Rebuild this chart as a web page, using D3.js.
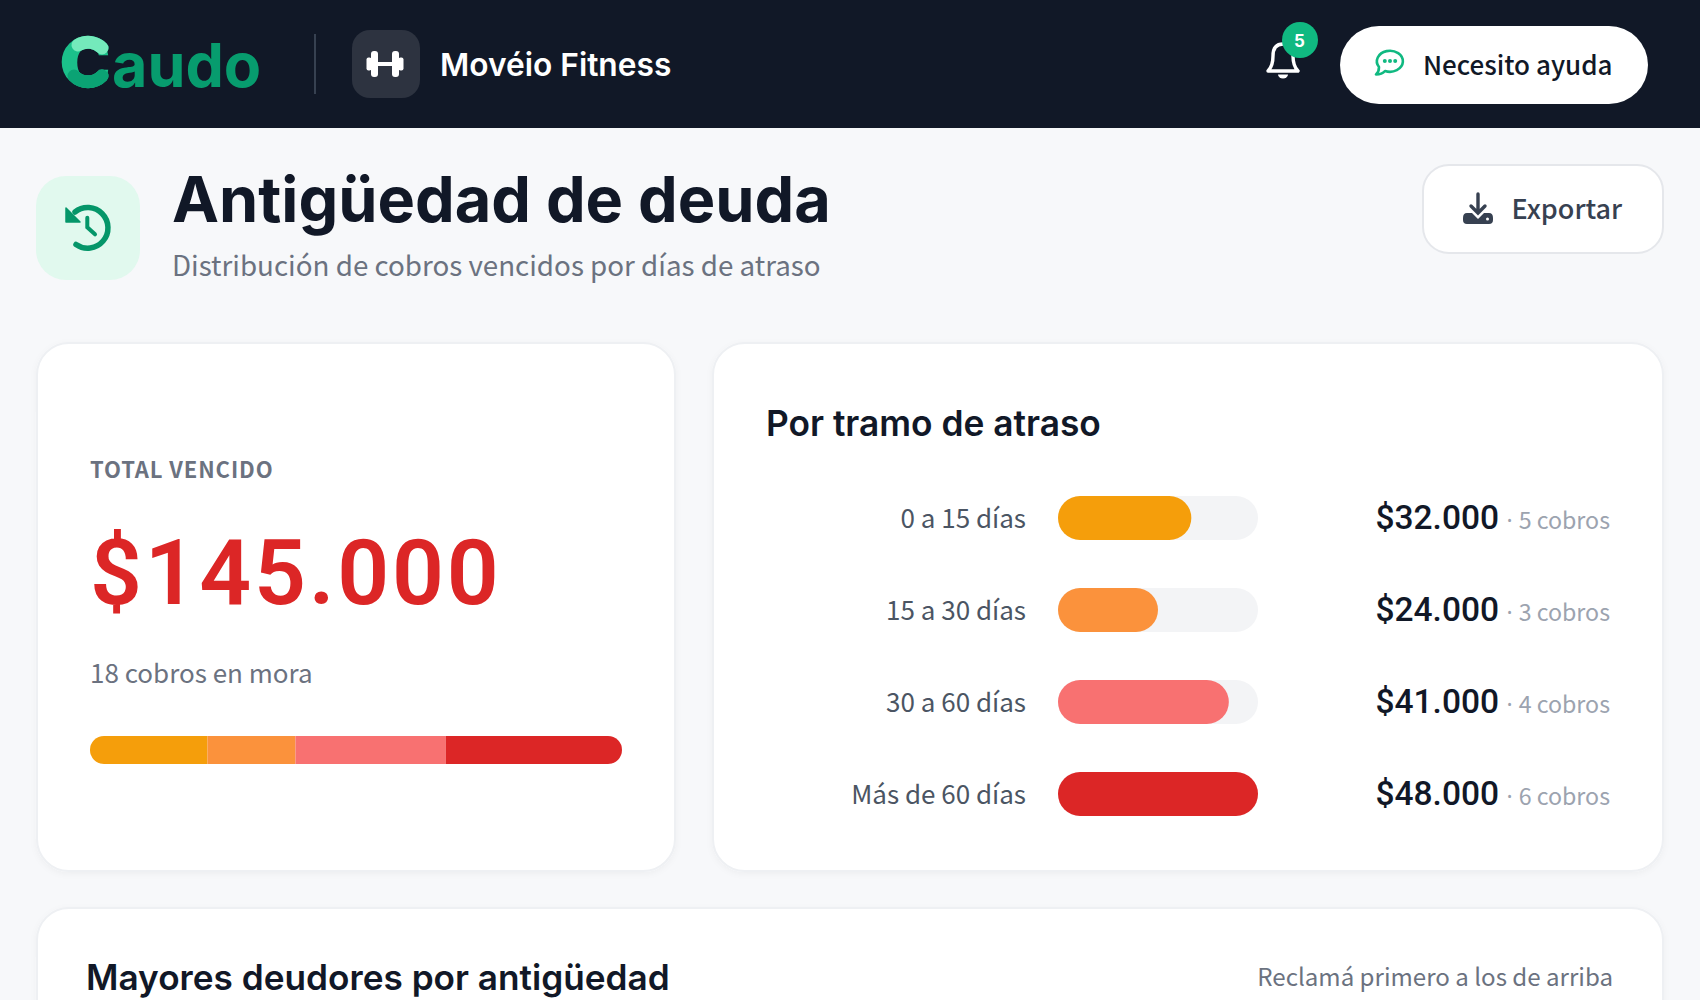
<!DOCTYPE html>
<html lang="es">
<head>
<meta charset="utf-8">
<title>Antigüedad de deuda</title>
<script src="https://cdn.jsdelivr.net/npm/d3@7.9.0/dist/d3.min.js"></script>
<style>
  html, body { margin: 0; padding: 0; background: #f7f8fa; overflow: hidden; }
  svg { display: block; }
  .body { font-family: "Noto Sans CJK SC", "Noto Sans", sans-serif; }
  .head { font-family: Inter, "Open Sans", sans-serif; }
  .nums { font-family: Roboto, sans-serif; }
</style>
</head>
<body>
<div id="chart"></div>
<script>
// datos
const tramos = ["0 a 15 días", "15 a 30 días", "30 a 60 días", "Más de 60 días"];
const montos = [32000, 24000, 41000, 48000];
const cobros = [5, 3, 4, 6];
const colores = ["#f59e0b", "#fb923c", "#f87171", "#dc2626"];
const totalVencido = 145000;
const totalCobros = 18;

const fmt = v => "$" + d3.format(",")(v).replace(/,/g, ".");

const svg = d3.select("#chart").append("svg")
  .attr("width", 1700).attr("height", 1000).attr("viewBox", "0 0 1700 1000");

const defs = svg.append("defs");
const shadow = defs.append("filter").attr("id", "sombra")
  .attr("x", "-5%").attr("y", "-5%").attr("width", "110%").attr("height", "110%");
shadow.append("feDropShadow").attr("dx", 0).attr("dy", 2).attr("stdDeviation", 3)
  .attr("flood-color", "#111827").attr("flood-opacity", 0.04);

function label(x, y, str, cls, size, weight, fill, anchor, spacing) {
  return svg.append("text").attr("class", cls)
    .attr("x", x).attr("y", y)
    .attr("font-size", size).attr("font-weight", weight).attr("fill", fill)
    .attr("text-anchor", anchor || "start")
    .attr("letter-spacing", spacing || 0)
    .text(str);
}

function card(x, y, w, h) {
  svg.append("rect").attr("x", x).attr("y", y).attr("width", w).attr("height", h)
    .attr("rx", 32).attr("fill", "#fff").attr("stroke", "#eef0f3").attr("stroke-width", 2)
    .attr("filter", "url(#sombra)");
}

// header
svg.append("rect").attr("width", 1700).attr("height", 128).attr("fill", "#111827");

const logo = svg.append("text").attr("class", "head").attr("y", 87)
  .attr("font-weight", 700).attr("fill", "#079c6e");
logo.append("tspan").attr("x", 65).attr("dy", -2).attr("font-size", 62).attr("fill", "#1bc08a").text("C");
logo.append("tspan").attr("x", 112).attr("dy", 2).attr("font-size", 61).text("audo");
// la C del logo va en tres tonos
const arcoC = svg.append("g").attr("fill", "none").attr("stroke-width", 13).attr("stroke-linecap", "round");
arcoC.append("path").attr("d", "M102 48 A19.8 19.8 0 1 0 102 76").attr("stroke", "#1bc08a");
arcoC.append("path").attr("d", "M74 76 A19.8 19.8 0 0 0 102 76").attr("stroke", "#0ba374");
arcoC.append("path").attr("d", "M102 48 A19.8 19.8 0 0 0 78 45").attr("stroke", "#74eabb");

svg.append("line").attr("x1", 315).attr("x2", 315).attr("y1", 34).attr("y2", 94)
  .attr("stroke", "#374151").attr("stroke-width", 2);
svg.append("rect").attr("x", 352).attr("y", 30).attr("width", 68).attr("height", 68).attr("rx", 18)
  .attr("fill", "#2d3340");
// mancuerna
const pesa = svg.append("g").attr("transform", "translate(385,64)").attr("fill", "#fff");
pesa.append("rect").attr("x", -14).attr("y", -13).attr("width", 7).attr("height", 26).attr("rx", 3);
pesa.append("rect").attr("x", 7).attr("y", -13).attr("width", 7).attr("height", 26).attr("rx", 3);
pesa.append("rect").attr("x", -18.5).attr("y", -6.5).attr("width", 5).attr("height", 13).attr("rx", 2);
pesa.append("rect").attr("x", 13.5).attr("y", -6.5).attr("width", 5).attr("height", 13).attr("rx", 2);
pesa.append("rect").attr("x", -7).attr("y", -2).attr("width", 14).attr("height", 4);

label(440, 76, "Movéio Fitness", "head", 31.7, 600, "#fff");

// campana
const bell = svg.append("g").attr("fill", "none").attr("stroke", "#fff").attr("stroke-width", 3.4)
  .attr("stroke-linejoin", "round");
bell.append("path").attr("d", "M1268 71 Q1273 66 1273 56 Q1273 44 1283 44 Q1293 44 1293 56 Q1293 66 1298 71 Z");
svg.append("path").attr("d", "M1278 74.5 A5 4 0 0 0 1288 74.5 Z").attr("fill", "#fff");
svg.append("circle").attr("cx", 1300).attr("cy", 40).attr("r", 18).attr("fill", "#10b981");
label(1299.5, 46.5, "5", "head", 17, 700, "#fff", "middle");

// boton ayuda
svg.append("rect").attr("x", 1340).attr("y", 26).attr("width", 308).attr("height", 78).attr("rx", 39)
  .attr("fill", "#fff");
const chat = svg.append("g").attr("transform", "translate(1390,62)");
chat.append("path").attr("d", "M-5 9 A13 10.5 0 1 0 -11 5 Q-11 10 -14 12.5 Q-8 12.5 -5 9 Z")
  .attr("fill", "none").attr("stroke", "#10b981").attr("stroke-width", 2.6).attr("stroke-linejoin", "round");
chat.selectAll("circle").data([-5.2, 0, 5.2]).enter().append("circle")
  .attr("cx", d => d).attr("cy", -1).attr("r", 2).attr("fill", "#10b981");
label(1423, 74.5, "Necesito ayuda", "body", 26, 500, "#111827");

// titulo
svg.append("rect").attr("x", 36).attr("y", 176).attr("width", 104).attr("height", 104).attr("rx", 30)
  .attr("fill", "#e1f9ee");
const hist = svg.append("g").attr("fill", "none").attr("stroke", "#059669").attr("stroke-width", 5.5)
  .attr("stroke-linecap", "round");
hist.append("path").attr("d", "M75 212 A20.3 20.3 0 1 1 76 244.5");
hist.append("path").attr("d", "M87.3 217.7 L87.3 227.3 L95 234.3").attr("stroke-width", 4);
svg.append("path").attr("d", "M66 208 L66 222 L80 222 Z").attr("fill", "#059669")
  .attr("stroke", "#059669").attr("stroke-width", 1.5).attr("stroke-linejoin", "round");

label(172, 222, "Antigüedad de deuda", "head", 63, 700, "#111827");
label(172, 276, "Distribución de cobros vencidos por días de atraso", "body", 27.75, 400, "#6b7280");

// exportar
svg.append("rect").attr("x", 1423).attr("y", 165).attr("width", 240).attr("height", 88).attr("rx", 26)
  .attr("fill", "#fff").attr("stroke", "#e5e7eb").attr("stroke-width", 2);
const exp = svg.append("g").attr("fill", "#374151");
exp.append("path").attr("d", "M1478 194 L1478 212 M1471 206 L1478 213 L1485 206")
  .attr("fill", "none").attr("stroke", "#374151").attr("stroke-width", 3.4).attr("stroke-linecap", "round");
exp.append("path").attr("d", "M1467 213 L1472 213 L1478 219 L1484 213 L1489 213 Q1493 213 1493 218 L1493 220 Q1493 224 1489 224 L1467 224 Q1463 224 1463 220 L1463 218 Q1463 213 1467 213 Z");
exp.append("circle").attr("cx", 1487.5).attr("cy", 219).attr("r", 1.5).attr("fill", "#fff");
label(1511.5, 218.5, "Exportar", "body", 27, 500, "#374151");

// tarjeta total
card(37, 343, 638, 528);
label(90, 478, "TOTAL VENCIDO", "body", 22, 600, "#6b7280", "start", 0.9);
label(90, 604, fmt(totalVencido), "nums", 91, 600, "#dc2626", "start", 2.7);
label(90, 682.5, `${totalCobros} cobros en mora`, "body", 26, 400, "#6b7280");

// barra apilada
const fila = [Object.fromEntries(tramos.map((t, i) => [t, montos[i]]))];
const capas = d3.stack().keys(tramos)(fila);
const xStack = d3.scaleLinear().domain([0, d3.sum(montos)]).range([90, 622]);
defs.append("clipPath").attr("id", "barraClip").append("rect")
  .attr("x", xStack.range()[0]).attr("y", 736)
  .attr("width", xStack.range()[1] - xStack.range()[0]).attr("height", 28).attr("rx", 14);
svg.append("g").attr("clip-path", "url(#barraClip)")
  .selectAll("rect").data(capas).enter().append("rect")
  .attr("x", d => xStack(d[0][0]))
  .attr("y", 736)
  .attr("width", d => xStack(d[0][1]) - xStack(d[0][0]))
  .attr("height", 28)
  .attr("fill", (d, i) => colores[i]);

// tarjeta tramos
card(713, 343, 950, 528);
label(766, 436, "Por tramo de atraso", "head", 35.3, 600, "#111827");

const yRow = d3.scalePoint().domain(tramos).range([496, 772]);
const xBar = d3.scaleLinear().domain([0, d3.max(montos)]).range([0, 200]);
const rows = svg.selectAll(".row").data(tramos).enter().append("g").attr("class", "row")
  .attr("transform", d => `translate(0,${yRow(d)})`);
rows.append("rect").attr("x", 1058).attr("width", xBar.range()[1]).attr("height", 44).attr("rx", 22)
  .attr("fill", "#f3f4f6");
rows.append("rect").attr("x", 1058).attr("width", (d, i) => xBar(montos[i])).attr("height", 44).attr("rx", 22)
  .attr("fill", (d, i) => colores[i]);
rows.append("text").attr("class", "body").attr("x", 1026).attr("y", 32)
  .attr("text-anchor", "end").attr("font-size", 26).attr("fill", "#4b5563").text(d => d);
rows.append("text").attr("class", "nums").attr("x", 1375.5).attr("y", 33)
  .attr("font-size", 33.5).attr("font-weight", 500).attr("fill", "#111827").text((d, i) => fmt(montos[i]));
// el punto aparte: en la fuente CJK es de ancho completo
rows.append("text").attr("x", 1509.5).attr("y", 32.6).attr("text-anchor", "middle")
  .attr("font-family", "Noto Sans").attr("font-size", 23).attr("fill", "#9ca3af").text("·");
rows.append("text").attr("class", "body").attr("x", 1610).attr("y", 32.6)
  .attr("text-anchor", "end").attr("font-size", 23.2).attr("fill", "#9ca3af").text((d, i) => `${cobros[i]} cobros`);

// tarjeta deudores
card(37, 908, 1626, 200);
label(86, 990, "Mayores deudores por antigüedad", "head", 35.2, 600, "#111827");
label(1613, 986, "Reclamá primero a los de arriba", "body", 24.1, 400, "#6b7280", "end");
</script>
</body>
</html>
